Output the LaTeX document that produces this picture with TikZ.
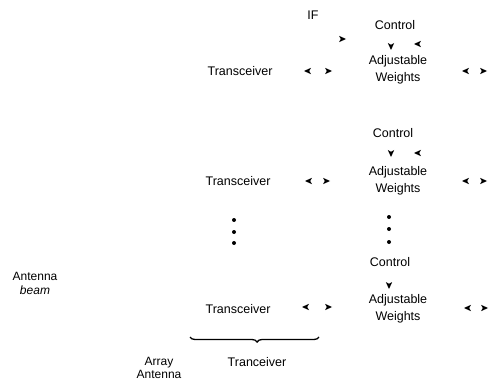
\documentclass[tikz,border=0pt]{standalone}
\usepackage{fontspec}
\setmainfont{Liberation Sans}
\usetikzlibrary{decorations.pathreplacing}
\begin{document}
\begin{tikzpicture}[x=1pt,y=-1pt,
  lbl/.style={font=\fontsize{12.5}{16.5}\selectfont, inner sep=0pt, align=center},
  dotmark/.style={circle, fill=black, inner sep=0pt, minimum size=4pt},
  tip/.pic={\fill (0,0) -- (-7,3.2) -- (-5.2,0) -- (-7,-3.2) -- cycle;}]
\useasboundingbox (0,0) rectangle (489,382);
% row 1
\node[lbl] (if) at (313,15) {IF};
\node[lbl] (c1) at (395,25) {Control};
\node[lbl] (t1) at (240,71) {Transceiver};
\node[lbl] (w1) at (398,70) {Adjustable\\Weights};
\pic at (346,39) {tip};
\pic[rotate=-90] at (391,50) {tip};
\pic[rotate=180] at (414,44) {tip};
\pic[rotate=180] at (304,71) {tip};
\pic at (332,71) {tip};
\pic[rotate=180] at (462,71) {tip};
\pic at (487,71) {tip};
% row 2
\node[lbl] (c2) at (393,133) {Control};
\node[lbl] (t2) at (238,181) {Transceiver};
\node[lbl] (w2) at (398,181) {Adjustable\\Weights};
\pic[rotate=-90] at (391,157) {tip};
\pic[rotate=180] at (414,153) {tip};
\pic[rotate=180] at (305,181) {tip};
\pic at (330,181) {tip};
\pic[rotate=180] at (462,181) {tip};
\pic at (487,181) {tip};
% dots
\node[dotmark] (dl1) at (234,220) {};
\node[dotmark] (dl2) at (234,232) {};
\node[dotmark] (dl3) at (234,243) {};
\node[dotmark] (dr1) at (389,217) {};
\node[dotmark] (dr2) at (389,229) {};
\node[dotmark] (dr3) at (389,242) {};
% row 3
\node[lbl] (c3) at (390,262) {Control};
\node[lbl] (t3) at (238,309) {Transceiver};
\node[lbl] (w3) at (398,309) {Adjustable\\Weights};
\pic[rotate=-90] at (389,289) {tip};
\pic[rotate=180] at (302,307) {tip};
\pic at (332,307) {tip};
\pic[rotate=180] at (464,308) {tip};
\pic at (488,308) {tip};
% left labels
\node[lbl, font=\fontsize{12}{14}\selectfont] (ant) at (35,283) {Antenna\\\textit{beam}};
\node[lbl, font=\fontsize{12}{13}\selectfont] (arr) at (159,368) {Array\\Antenna};
% brace
\coordinate (bl) at (190,337);
\coordinate (br) at (319,337);
\draw[line width=1.3pt, decorate, decoration={brace, amplitude=5pt, mirror, aspect=0.52}] (bl) -- (br);
\node[lbl] (tr) at (257,362) {Tranceiver};
\end{tikzpicture}
\end{document}
